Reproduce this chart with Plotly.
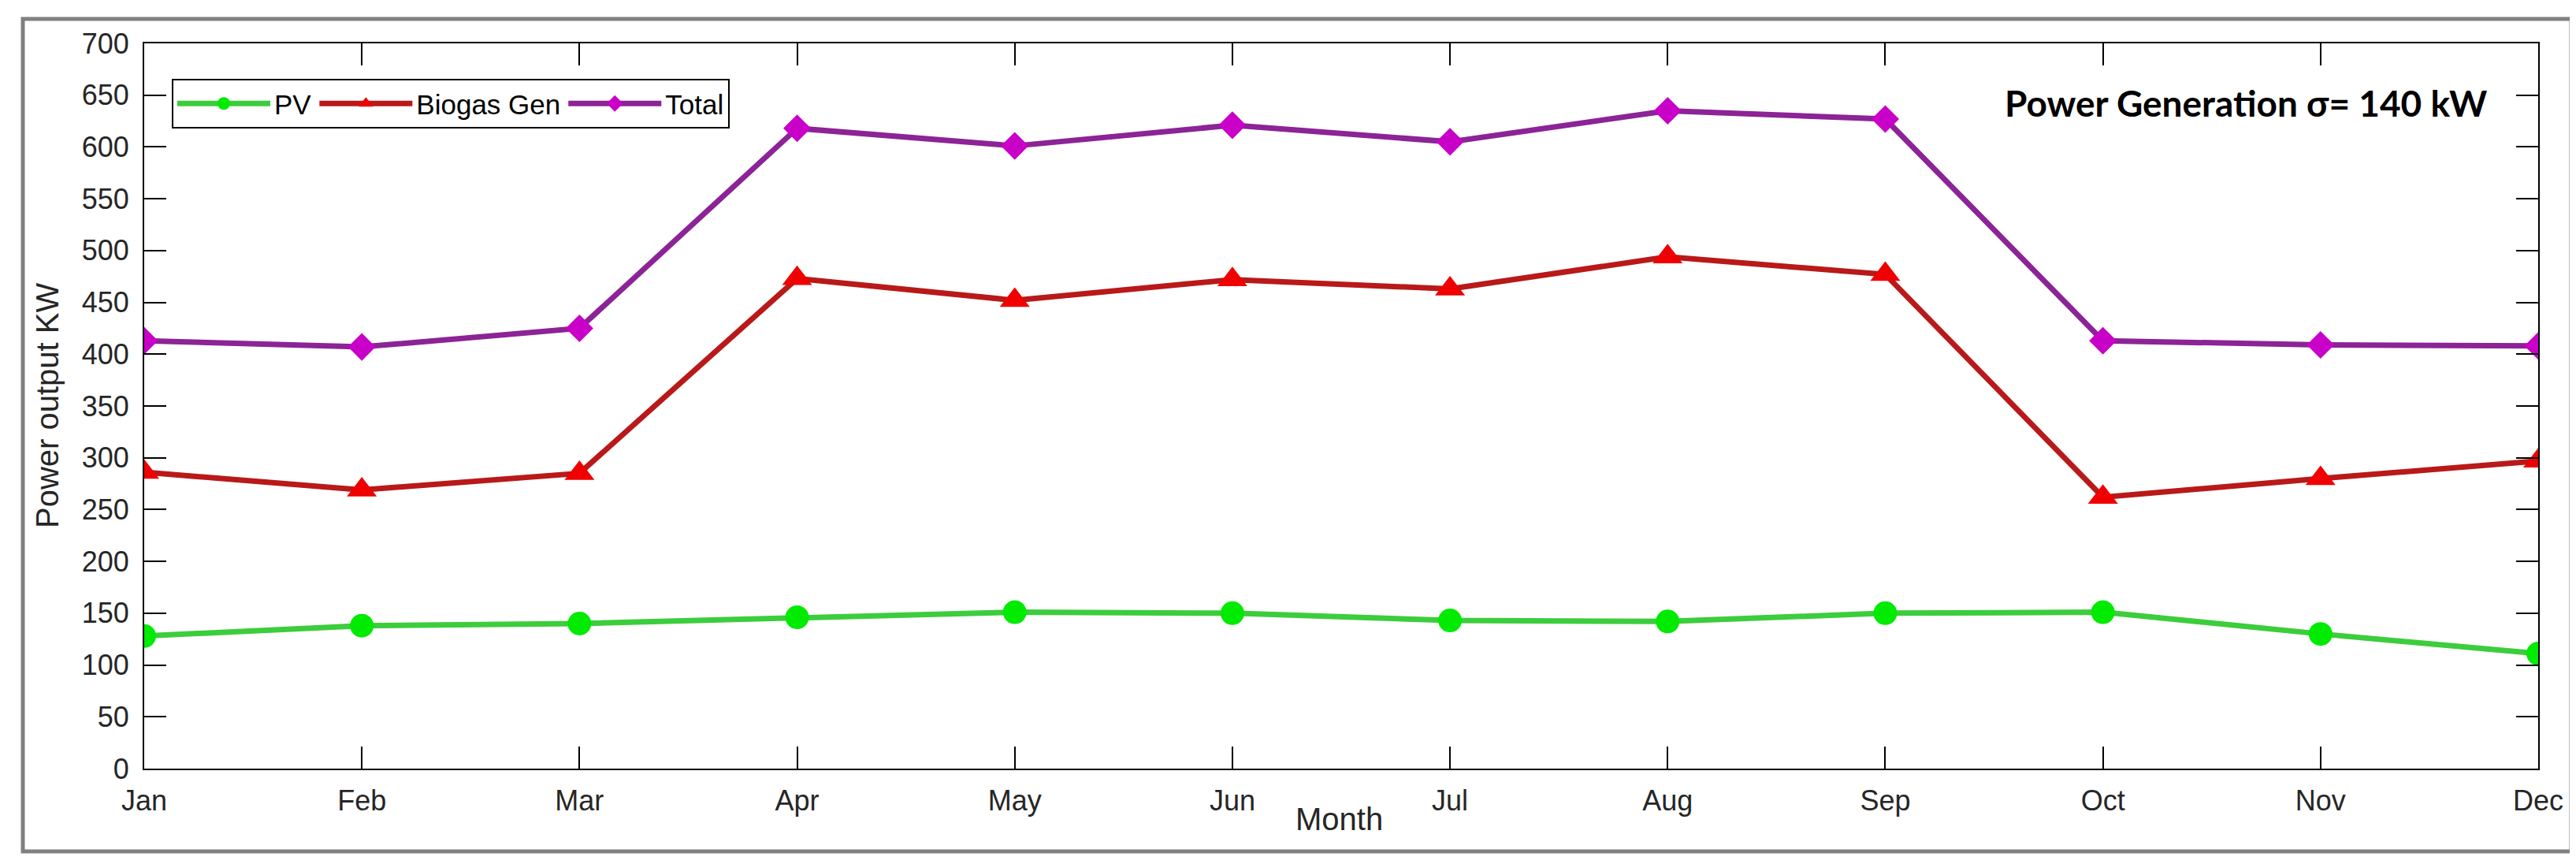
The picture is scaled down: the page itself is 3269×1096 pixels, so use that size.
import plotly.graph_objects as go

months = ["Jan", "Feb", "Mar", "Apr", "May", "Jun", "Jul", "Aug", "Sep", "Oct", "Nov", "Dec"]
pv = [128, 138, 140, 146, 151, 150, 143, 142, 150, 151, 130, 111]
biogas = [286, 269, 285, 473, 452, 472, 463, 494, 477, 262, 280, 297]
total = [413, 407, 425, 618, 601, 621, 605, 635, 627, 413, 409, 408]
y_ticks = list(range(0, 701, 50))

W, H = 3269, 1096
L, R, T, B = 175, 3213, 47, 967  # plot area pixel box


def px_x(p):
    return (p - L) / (R - L)


def px_y(p):
    return (B - p) / (B - T)


text_color = "#262626"
font_family = "Liberation Sans, Arial, sans-serif"

fig = go.Figure()
fig.add_trace(go.Scatter(
    x=months, y=pv, name="PV", mode="lines+markers",
    line=dict(color="rgb(60,205,60)", width=7),
    marker=dict(symbol="circle", size=30, color="rgb(0,235,0)",
                line=dict(width=0)),
))
fig.add_trace(go.Scatter(
    x=months, y=biogas, name="Biogas Gen", mode="lines+markers",
    line=dict(color="rgb(185,25,25)", width=7),
    marker=dict(symbol="triangle-up", size=33, color="rgb(240,0,0)",
                line=dict(width=0)),
))
fig.add_trace(go.Scatter(
    x=months, y=total, name="Total", mode="lines+markers",
    line=dict(color="rgb(140,35,150)", width=7),
    marker=dict(symbol="diamond", size=27, color="rgb(200,0,200)",
                line=dict(width=0)),
))

fig.update_layout(
    width=W, height=H,
    margin=dict(l=L, r=W - R, t=T, b=H - B, pad=0),
    paper_bgcolor="white", plot_bgcolor="white",
    font=dict(family=font_family, size=36, color=text_color),
    showlegend=True,
    legend=dict(
        orientation="h", x=px_x(210), y=px_y(92),
        xanchor="left", yanchor="top",
        bgcolor="white", bordercolor="black", borderwidth=2,
        font=dict(size=35, color="black"),
        itemwidth=118, tracegroupgap=0,
    ),
    xaxis=dict(
        type="category", range=[0, len(months) - 1],
        tickmode="array", tickvals=months, ticktext=months,
        ticks="inside", ticklen=28, tickwidth=2, tickcolor="black",
        showline=True, linecolor="black", linewidth=2, mirror="ticks",
        showgrid=False, zeroline=False,
        tickfont=dict(size=36, color=text_color),
        ticklabelstandoff=8,
    ),
    yaxis=dict(
        range=[0, 700], tickmode="array", tickvals=y_ticks,
        ticks="inside", ticklen=28, tickwidth=2, tickcolor="black",
        showline=True, linecolor="black", linewidth=2, mirror="ticks",
        showgrid=False, zeroline=False,
        tickfont=dict(size=36, color=text_color),
        ticklabelstandoff=10,
    ),
    shapes=[dict(
        type="rect", xref="paper", yref="paper",
        x0=px_x(21), x1=px_x(3255), y0=px_y(1072), y1=px_y(16),
        line=dict(color="rgb(128,128,128)", width=5), layer="below",
    )],
    annotations=[
        dict(text="Month", xref="paper", yref="paper",
             x=px_x(1691), y=px_y(1031), xanchor="center", yanchor="middle",
             showarrow=False, font=dict(size=40, color=text_color)),
        dict(text="Power output KW", xref="paper", yref="paper",
             x=px_x(52), y=px_y(507), xanchor="center", yanchor="middle",
             textangle=-90, showarrow=False,
             font=dict(size=40, color=text_color)),
        dict(text="<b>Power Generation σ= 140 kW</b>", xref="paper", yref="paper",
             x=px_x(3150), y=px_y(122), xanchor="right", yanchor="middle",
             showarrow=False,
             font=dict(family="Lato, Open Sans, sans-serif", size=46, color="black")),
    ],
)

fig.write_html("out.html")
